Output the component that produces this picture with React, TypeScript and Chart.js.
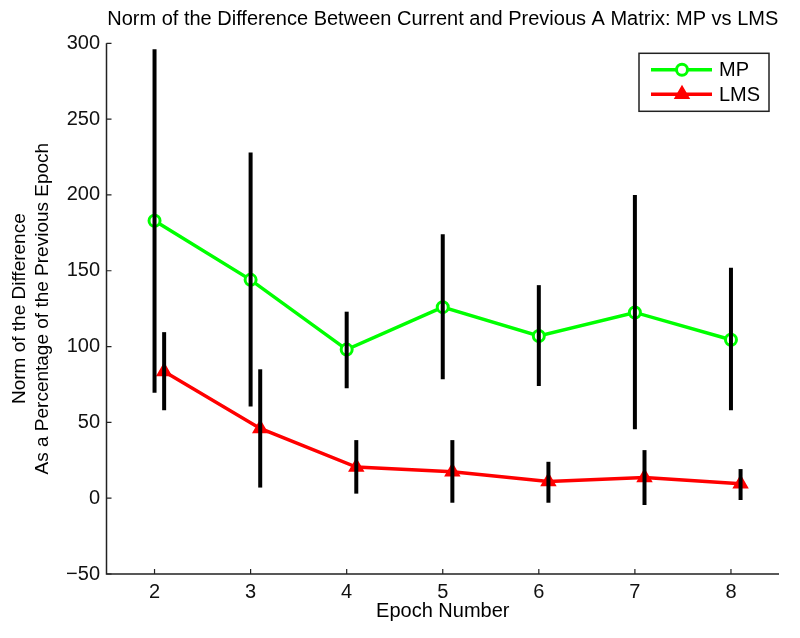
import { useEffect, useRef } from 'react';
import { Chart, registerables } from 'chart.js';

Chart.register(...registerables);

// ---- data ----
const epochs = [2, 3, 4, 5, 6, 7, 8];
const lmsOffset = 0.1;
const mpMean = [183, 144, 98, 126, 107, 122.5, 104.5];
const mpLow = [69.5, 60.5, 72.5, 78.5, 74, 45.5, 58];
const mpHigh = [296, 228, 123, 174, 140.5, 200, 152];
const lmsMean = [83.5, 46, 20.5, 17.5, 11, 13.7, 9.5];
const lmsLow = [58, 7, 3, -3, -3, -4.5, -1.2];
const lmsHigh = [109.5, 85, 38.3, 38.3, 24, 31.7, 19.2];
const xTicks = [2, 3, 4, 5, 6, 7, 8];
const yTicks = [-50, 0, 50, 100, 150, 200, 250, 300];
const seriesLabels = ['MP', 'LMS'];
const titleText = 'Norm of the Difference Between Current and Previous A Matrix: MP vs LMS';
const xTitle = 'Epoch Number';
const yTitle = ['Norm of the Difference', 'As a Percentage of the Previous Epoch'];

const FONT = '"Liberation Sans", Arial, Helvetica, sans-serif';
const GREEN = '#00ff00';
const RED = '#ff0000';

const matlabPlugin = {
  id: 'matlabLook',
  afterDatasetsDraw(chart: any) {
    const { ctx, scales } = chart;
    const x = scales.x;
    const y = scales.y;
    ctx.save();
    ctx.strokeStyle = '#000';
    ctx.lineWidth = 4;
    ctx.lineCap = 'butt';
    const bar = (xv: number, lo: number, hi: number) => {
      const px = x.getPixelForValue(xv);
      ctx.beginPath();
      ctx.moveTo(px, y.getPixelForValue(lo));
      ctx.lineTo(px, y.getPixelForValue(hi));
      ctx.stroke();
    };
    epochs.forEach((e, i) => bar(e, mpLow[i], mpHigh[i]));
    epochs.forEach((e, i) => bar(e + lmsOffset, lmsLow[i], lmsHigh[i]));
    ctx.restore();
  },
  afterDraw(chart: any) {
    const { ctx, chartArea, scales } = chart;
    const x = scales.x;
    const y = scales.y;
    const { left, right, top, bottom } = chartArea;
    ctx.save();
    // axes
    ctx.strokeStyle = '#222';
    ctx.lineWidth = 1.5;
    ctx.beginPath();
    ctx.moveTo(left, top);
    ctx.lineTo(left, bottom);
    ctx.lineTo(right, bottom);
    ctx.stroke();
    // inward ticks
    ctx.lineWidth = 1.2;
    ctx.beginPath();
    xTicks.forEach((v) => {
      const px = x.getPixelForValue(v);
      ctx.moveTo(px, bottom);
      ctx.lineTo(px, bottom - 5);
    });
    yTicks.forEach((v) => {
      const py = y.getPixelForValue(v);
      ctx.moveTo(left, py);
      ctx.lineTo(left + 5, py);
    });
    ctx.stroke();

    // legend
    const bw = 130;
    const bh = 58;
    const bx = right - 10 - bw;
    const by = top + 10;
    ctx.fillStyle = '#fff';
    ctx.fillRect(bx, by, bw, bh);
    ctx.strokeStyle = '#222';
    ctx.lineWidth = 1.5;
    ctx.strokeRect(bx, by, bw, bh);
    const rows = [by + 16.5, by + 41];
    const colors = [GREEN, RED];
    rows.forEach((ry, i) => {
      ctx.strokeStyle = colors[i];
      ctx.lineWidth = 3.5;
      ctx.beginPath();
      ctx.moveTo(bx + 12, ry);
      ctx.lineTo(bx + 73, ry);
      ctx.stroke();
      const mx = bx + 43;
      if (i === 0) {
        ctx.fillStyle = '#fff';
        ctx.lineWidth = 3;
        ctx.beginPath();
        ctx.arc(mx, ry, 5.5, 0, Math.PI * 2);
        ctx.fill();
        ctx.stroke();
      } else {
        const r = 7.5;
        ctx.fillStyle = RED;
        ctx.lineWidth = 2;
        ctx.beginPath();
        ctx.moveTo(mx, ry - r);
        ctx.lineTo(mx + r * Math.sin((2 * Math.PI) / 3), ry - r * Math.cos((2 * Math.PI) / 3));
        ctx.lineTo(mx + r * Math.sin((4 * Math.PI) / 3), ry - r * Math.cos((4 * Math.PI) / 3));
        ctx.closePath();
        ctx.fill();
        ctx.stroke();
      }
      ctx.fillStyle = '#000';
      ctx.font = `20px ${FONT}`;
      ctx.textAlign = 'left';
      ctx.textBaseline = 'middle';
      ctx.fillText(seriesLabels[i], bx + 80, ry + 1);
    });
    ctx.restore();
  },
};

export default function App() {
  const canvasRef = useRef<HTMLCanvasElement | null>(null);

  useEffect(() => {
    const canvas = canvasRef.current;
    if (!canvas) return;
    const chart = new Chart(canvas, {
      type: 'line',
      data: {
        datasets: [
          {
            label: seriesLabels[0],
            data: epochs.map((e, i) => ({ x: e, y: mpMean[i] })),
            borderColor: GREEN,
            backgroundColor: '#ffffff',
            borderWidth: 3.5,
            pointStyle: 'circle',
            pointRadius: 5.5,
            pointBorderWidth: 3,
            pointBorderColor: GREEN,
            pointBackgroundColor: '#ffffff',
            tension: 0,
          },
          {
            label: seriesLabels[1],
            data: epochs.map((e, i) => ({ x: e + lmsOffset, y: lmsMean[i] })),
            borderColor: RED,
            backgroundColor: RED,
            borderWidth: 3.5,
            pointStyle: 'triangle',
            pointRadius: 7.5,
            pointBorderWidth: 2,
            pointBorderColor: RED,
            pointBackgroundColor: RED,
            tension: 0,
          },
        ],
      },
      options: {
        animation: false,
        responsive: false,
        maintainAspectRatio: false,
        events: [],
        layout: { padding: { left: 0, right: 21, top: 0, bottom: 0 } },
        plugins: {
          legend: { display: false },
          tooltip: { enabled: false },
          title: {
            display: true,
            fullSize: false,
            text: titleText,
            color: '#000',
            font: { family: FONT, size: 20, weight: 'normal', lineHeight: 1.2 },
            padding: { top: 7, bottom: 12.3 },
          },
        },
        scales: {
          x: {
            type: 'linear',
            min: 1.5,
            max: 8.5,
            afterBuildTicks: (s: any) => {
              s.ticks = xTicks.map((v) => ({ value: v }));
            },
            afterFit: (s: any) => {
              s.height = 64;
            },
            grid: { display: false, drawTicks: false, tickLength: 0 },
            border: { display: false },
            ticks: {
              color: '#111',
              font: { family: FONT, size: 20 },
              padding: 6,
              autoSkip: false,
              maxRotation: 0,
              callback: (v: any) => String(v),
            },
            title: {
              display: true,
              text: xTitle,
              color: '#000',
              font: { family: FONT, size: 20, lineHeight: 1.2 },
              padding: { top: 0, bottom: 14.6 },
            },
          },
          y: {
            type: 'linear',
            min: -50,
            max: 300,
            afterBuildTicks: (s: any) => {
              s.ticks = yTicks.map((v) => ({ value: v }));
            },
            afterFit: (s: any) => {
              s.width = 106.5;
            },
            grid: { display: false, drawTicks: false, tickLength: 0 },
            border: { display: false },
            ticks: {
              color: '#111',
              font: { family: FONT, size: 20 },
              padding: 6.5,
              autoSkip: false,
              callback: (v: any) => (Number(v) < 0 ? '\u2212' + Math.abs(Number(v)) : String(v)),
            },
            title: {
              display: true,
              text: yTitle,
              color: '#000',
              font: { family: FONT, size: 19, lineHeight: 1.2 },
              padding: { top: 8.6, bottom: 0 },
            },
          },
        },
      },
      plugins: [matlabPlugin],
    } as any);
    return () => chart.destroy();
  }, []);

  return (
    <div style={{ position: 'absolute', left: 0, top: 0, width: 800, height: 638, background: '#fff' }}>
      <canvas ref={canvasRef} width={800} height={638} style={{ display: 'block', width: 800, height: 638 }} />
    </div>
  );
}
